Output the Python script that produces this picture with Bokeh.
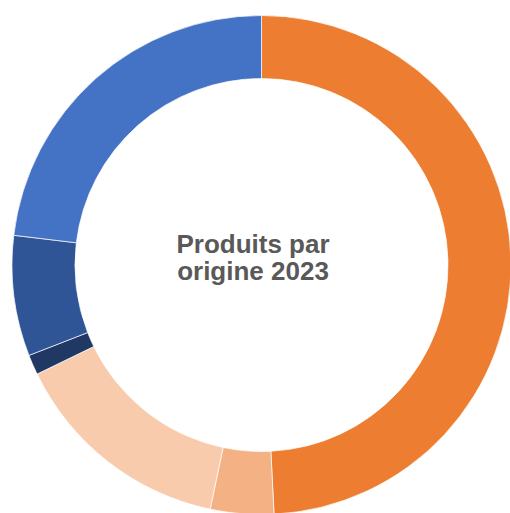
import math
from bokeh.plotting import figure
from bokeh.models import ColumnDataSource, Range1d
from bokeh.core.properties import value
from bokeh.embed import file_html
from bokeh.resources import INLINE

# Data (clockwise from 12 o'clock)
categories = ["Origine A", "Origine B", "Origine C", "Origine D", "Origine E", "Origine F"]
shares = [49.2, 4.1, 14.5, 1.3, 7.8, 23.1]
colors = ["#ED7D31", "#F4B183", "#F8CBAD", "#1F3864", "#2F5597", "#4472C4"]
title_lines = ["Produits par", "origine 2023"]

W, H = 510, 513
p = figure(width=W, height=H, output_backend="svg", toolbar_location=None,
           x_range=Range1d(0, W), y_range=Range1d(0, H), min_border=0)
p.axis.visible = False
p.grid.visible = False
p.outline_line_color = None
p.background_fill_color = "white"
p.border_fill_color = "white"

total = sum(shares)
starts, ends = [], []
acc = 0.0
for s in shares:
    a0 = math.pi / 2 - 2 * math.pi * acc / total
    acc += s
    a1 = math.pi / 2 - 2 * math.pi * acc / total
    starts.append(a0)
    ends.append(a1)

cx, cy = 261, H - 264.5
src = ColumnDataSource(dict(cat=categories, share=shares, color=colors,
                            start=starts, end=ends))
p.annular_wedge(x=cx, y=cy, inner_radius=186.5, outer_radius=249.5,
                start_angle="start", end_angle="end", direction="clock",
                fill_color="color", line_color="white", line_width=0.7,
                source=src)

tx = 252.5
p.text(x=[tx, tx], y=[H - 243, H - 270], text=title_lines,
       text_font=value("Liberation Sans"), text_font_style="bold",
       text_font_size="26px", text_color="#595959",
       text_align="center", text_baseline="alphabetic")

open("out.html", "w").write(file_html(p, INLINE))
